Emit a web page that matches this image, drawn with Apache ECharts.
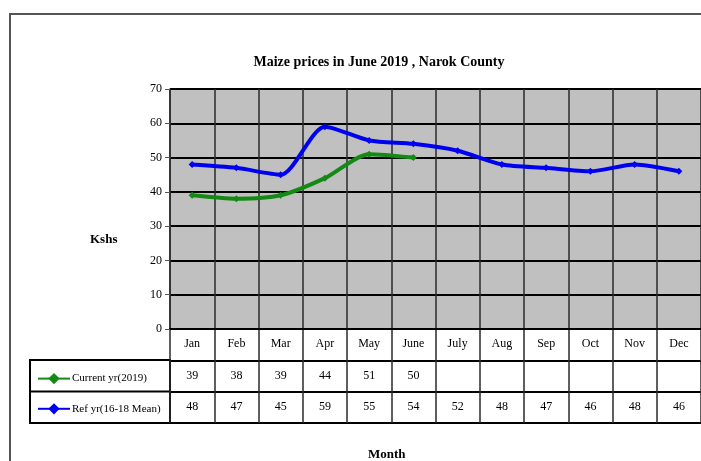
<!DOCTYPE html>
<html>
<head>
<meta charset="utf-8">
<script src="https://cdn.jsdelivr.net/npm/echarts@6/dist/echarts.min.js"></script>
<style>
html, body { margin: 0; padding: 0; background: #fff; }
#main { width: 701px; height: 461px; }
</style>
</head>
<body>
<div id="main"></div>
<script>
// data
var months = ['Jan', 'Feb', 'Mar', 'Apr', 'May', 'June', 'July', 'Aug', 'Sep', 'Oct', 'Nov', 'Dec'];
var currentYr = [39, 38, 39, 44, 51, 50];
var refYr = [48, 47, 45, 59, 55, 54, 52, 48, 47, 46, 48, 46];
var yTicks = [0, 10, 20, 30, 40, 50, 60, 70];
var tableRows = ['month', 'cur', 'ref'];

var serif = 'Liberation Serif';

// table cells built from the series values
var curCells = currentYr.map(function (v, i) { return [i, 'cur', v]; });
var refCells = refYr.map(function (v, i) { return [i, 'ref', v]; });

var myChart = echarts.init(document.getElementById('main'));

var cellLabel = {
    show: true, position: 'inside',
    formatter: function (p) { return p.value[2]; },
    fontFamily: serif, fontSize: 12, color: '#000', opacity: 1,
    textBorderWidth: 0, textBorderColor: 'transparent'
};

var option = {
    backgroundColor: '#fff',
    textStyle: { fontFamily: serif, color: '#000' },
    title: [
        {
            text: 'Maize prices in June 2019 , Narok County',
            left: 374, top: 50, textAlign: 'center',
            textStyle: { fontFamily: serif, fontSize: 14, fontWeight: 'bold', color: '#000' }
        },
        {
            text: 'Kshs', left: 85, top: 228,
            textStyle: { fontFamily: serif, fontSize: 13, fontWeight: 'bold', color: '#000' }
        },
        {
            text: 'Month', left: 363, top: 443,
            textStyle: { fontFamily: serif, fontSize: 13, fontWeight: 'bold', color: '#000' }
        }
    ],
    legend: {
        data: ['Current yr(2019)', 'Ref yr(16-18 Mean)'],
        orient: 'vertical',
        left: 32, top: 368,
        itemWidth: 32, itemHeight: 14, itemGap: 19,
        textStyle: { fontFamily: serif, fontSize: 11, color: '#000', padding: [0, 0, 0, -3] }
    },
    grid: [
        { left: 170, top: 89, width: 533, height: 240, backgroundColor: '#c0c0c0', show: true, borderWidth: 0 },
        { left: 170, top: 329, width: 533, height: 94 }
    ],
    xAxis: [
        {
            type: 'category', gridIndex: 0, data: months, boundaryGap: true,
            axisLine: { show: true, lineStyle: { color: '#000', width: 2 } },
            axisTick: { show: false },
            splitLine: { show: true, lineStyle: { color: '#2a2a2a', width: 1.5 } },
            axisLabel: { margin: 9, fontFamily: serif, fontSize: 12, color: '#000' }
        },
        {
            type: 'category', gridIndex: 1, data: months, boundaryGap: true,
            axisLine: { show: false },
            axisTick: { show: false },
            axisLabel: { show: false },
            splitLine: { show: true, lineStyle: { color: '#2a2a2a', width: 1.5 } }
        }
    ],
    yAxis: [
        {
            type: 'value', gridIndex: 0, min: yTicks[0], max: yTicks[yTicks.length - 1], interval: 10,
            axisLine: { show: true, lineStyle: { color: '#2a2a2a', width: 1.5 } },
            axisTick: { show: true, length: 5, lineStyle: { color: '#555' } },
            splitLine: { show: true, lineStyle: { color: '#000', width: 2 } },
            axisLabel: { margin: 8, fontFamily: serif, fontSize: 12, color: '#000' }
        },
        {
            type: 'category', gridIndex: 1, data: tableRows, inverse: true, boundaryGap: true,
            axisLine: { show: false },
            axisTick: { show: false },
            axisLabel: { show: false },
            splitLine: { show: true, lineStyle: { color: '#000', width: 2 } }
        }
    ],
    graphic: [
        // outer frame
        { type: 'rect', shape: { x: 10, y: 14, width: 720, height: 480 },
          style: { fill: 'none', stroke: '#555', lineWidth: 2 }, silent: true },
        // legend column of the data table
        { type: 'rect', shape: { x: 30, y: 360, width: 140, height: 63 },
          style: { fill: 'none', stroke: '#000', lineWidth: 2 }, silent: true },
        { type: 'line', shape: { x1: 30, y1: 391.5, x2: 170, y2: 391.5 },
          style: { stroke: '#000', lineWidth: 2 }, silent: true }
    ],
    series: [
        {
            name: 'Current yr(2019)', type: 'line', xAxisIndex: 0, yAxisIndex: 0,
            data: currentYr, smooth: 0.25,
            symbol: 'diamond', symbolSize: 7,
            itemStyle: { color: '#138a13' },
            lineStyle: { color: '#138a13', width: 4 }
        },
        {
            name: 'Ref yr(16-18 Mean)', type: 'line', xAxisIndex: 0, yAxisIndex: 0,
            data: refYr, smooth: 0.25,
            symbol: 'diamond', symbolSize: 7,
            itemStyle: { color: '#0000f0' },
            lineStyle: { color: '#0000f0', width: 4 }
        },
        {
            type: 'scatter', xAxisIndex: 1, yAxisIndex: 1, data: curCells,
            symbolSize: 0, silent: true, itemStyle: { opacity: 1 }, label: cellLabel
        },
        {
            type: 'scatter', xAxisIndex: 1, yAxisIndex: 1, data: refCells,
            symbolSize: 0, silent: true, itemStyle: { opacity: 1 }, label: cellLabel
        }
    ]
};

myChart.setOption(option);

window.addEventListener('resize', function () {
    myChart.resize();
});
</script>
</body>
</html>
